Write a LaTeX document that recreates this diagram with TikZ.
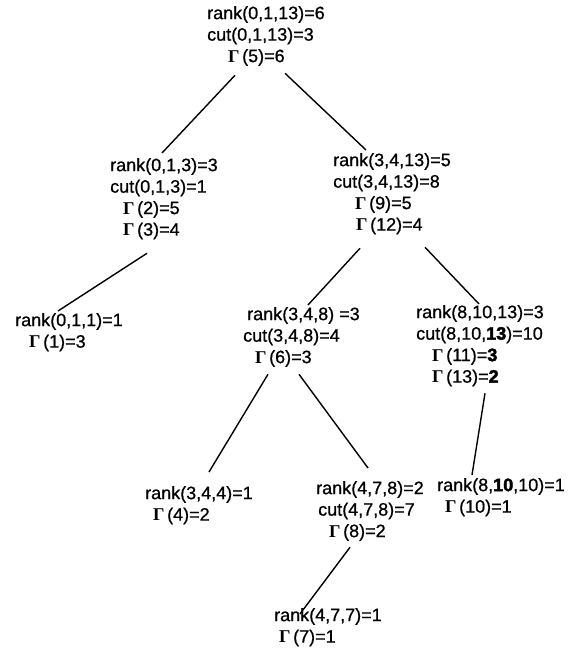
\documentclass[tikz,border=0pt]{standalone}
\usepackage{fontspec}
\setmainfont{Liberation Sans}[FakeBold=0.8,BoldFeatures={FakeBold=2.5}]
\newfontfamily\gamfont{Liberation Serif}
\newcommand{\Gm}{{\gamfont\bfseries Γ}\kern2.5pt}
\begin{document}
\begin{tikzpicture}[x=1pt,y=-1pt,
  lbl/.style={anchor=north west, inner sep=0pt, align=left, font=\fontsize{18}{21.5}\selectfont},
  edge/.style={line width=1.4pt, black}]
\useasboundingbox (0,0) rectangle (569,653);
% nodes
\node[lbl] (root) at (207,5.9) {rank(0,1,13)=6\\cut(0,1,13)=3\\\hspace*{21pt}\Gm(5)=6};
\node[lbl] (A) at (110,157.9) {rank(0,1,3)=3\\cut(0,1,3)=1\\\hspace*{13pt}\Gm(2)=5\\\hspace*{13pt}\Gm(3)=4};
\node[lbl] (B) at (333,152.9) {rank(3,4,13)=5\\cut(3,4,13)=8\\\hspace*{22pt}\Gm(9)=5\\\hspace*{23pt}\Gm(12)=4};
\node[lbl] (C) at (15,312.9) {rank(0,1,1)=1\\\hspace*{14pt}\Gm(1)=3};
\node[lbl] (D) at (243,306.9) {\hspace*{4pt}rank(3,4,8) =3\\cut(3,4,8)=4\\\hspace*{12pt}\Gm(6)=3};
\node[lbl] (E) at (416,304.9) {rank(8,10,13)=3\\cut(8,10,\textbf{13})=10\\\hspace*{16pt}\Gm(11)=\textbf{3}\\\hspace*{16pt}\Gm(13)=\textbf{2}};
\node[lbl] (F) at (145,485.9) {rank(3,4,4)=1\\\hspace*{8pt}\Gm(4)=2};
\node[lbl] (G) at (316,480.9) {rank(4,7,8)=2\\\hspace*{2pt}cut(4,7,8)=7\\\hspace*{13pt}\Gm(8)=2};
\node[lbl] (H) at (437,477.9) {rank(8,\textbf{10},10)=1\\\hspace*{8pt}\Gm(10)=1};
\node[lbl] (I) at (274,607.9) {rank(4,7,7)=1\\\hspace*{5pt}\Gm(7)=1};
% connectors
\draw[edge] ([shift={(28,9.2)}]root.south west) -- ([shift={(52,-4.9)}]A.north west);
\draw[edge] ([shift={(78,7.2)}]root.south west) -- ([shift={(33,-2.9)}]B.north west);
\draw[edge] ([shift={(37,13.7)}]A.south west) -- ([shift={(43,-1.9)}]C.north west);
\draw[edge] ([shift={(27,13.7)}]B.south west) -- ([shift={(65,-1.9)}]D.north west);
\draw[edge] ([shift={(92,12.7)}]B.south west) -- ([shift={(63,-0.9)}]E.north west);
\draw[edge] ([shift={(25,7.2)}]D.south west) -- ([shift={(64,-13.9)}]F.north west);
\draw[edge] ([shift={(56,7.2)}]D.south west) -- ([shift={(52,-12.9)}]G.north west);
\draw[edge] ([shift={(69,6.7)}]E.south west) -- ([shift={(35,-2.9)}]H.north west);
\draw[edge] ([shift={(34,6.2)}]G.south west) -- ([shift={(26,6)}]I.north west);
\end{tikzpicture}
\end{document}
